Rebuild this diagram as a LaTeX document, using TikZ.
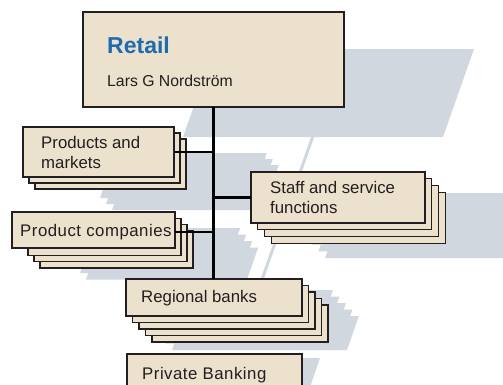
\documentclass[tikz,border=0pt]{standalone}
\usepackage{fontspec}
\setmainfont{Liberation Sans}
\definecolor{boxfill}{HTML}{ECE1CC}
\definecolor{shadow}{HTML}{D0D7DE}
\definecolor{titleblue}{HTML}{1F6BB0}
\definecolor{ink}{HTML}{231F20}
\tikzset{
  box/.style={draw=ink, fill=boxfill, line width=1.2pt, inner sep=0pt, outer sep=0pt, anchor=north west},
  lbl/.style={anchor=base west, inner sep=0pt, text=ink, font=\fontsize{16.8}{20}\selectfont},
  wide/.style={font=\fontsize{16.8}{20}\selectfont\addfontfeature{LetterSpace=3}},
  link/.style={draw=black, line width=2.5pt},
  trunk/.style={draw=black, line width=3pt},
  shd/.style={fill=shadow, draw=none}
}
\begin{document}
\begin{tikzpicture}[x=1pt,y=-1pt]
\useasboundingbox (0,0) rectangle (503,384);
\clip (0,0) rectangle (503,384);
% ---- shadows ----
\fill[shd] (214,49) -- (474,49) -- (443,137) -- (183,137) -- cycle;
\draw[shadow, line width=3pt] (313,136) -- (259,288);
\foreach \k in {0,1,2} {
  \fill[shd] ({100+6*\k+15.75},{153+6*\k}) -- ++(151,0) -- ++(-15.75,45) -- ++(-151,0) -- cycle;
}
\foreach \k in {0,1,2,3} {
  \fill[shd] ({305+6.7*\k+15.75},{193+6.7*\k}) -- ++(230,0) -- ++(-15.75,45) -- ++(-230,0) -- cycle;
}
\foreach \k in {0,1,2,3} {
  \fill[shd] ({68+6*\k+11.2},{228+6.5*\k}) -- ++(161,0) -- ++(-11.2,32) -- ++(-161,0) -- cycle;
}
\foreach \k in {0,1,2,3,4} {
  \fill[shd] ({146+6.5*\k+11.9},{290+6.5*\k}) -- ++(175,0) -- ++(-11.9,34) -- ++(-175,0) -- cycle;
}
\fill[shd] (160,358) -- (320,358) -- (307,396) -- (147,396) -- cycle;
% ---- Retail ----
\node[box, minimum width=261pt, minimum height=95pt] (retail) at (83,12) {};
\node[anchor=base west, inner sep=0pt, text=titleblue, font=\fontsize{23}{27}\selectfont\bfseries] (rtitle) at (107,53) {Retail};
\node[lbl, font=\fontsize{15.8}{19}\selectfont] (rname) at (107,86) {Lars G Nordström};
% ---- Products and markets ----
\foreach \k in {2,1} {
  \node[box, minimum width=151pt, minimum height=50pt] (pm\k) at ({23+6*\k},{127+6*\k}) {};
}
\node[box, minimum width=151pt, minimum height=50pt] (pm0) at (23,127) {};
\node[lbl] (pmt1) at (41,148) {Products and};
\node[lbl] (pmt2) at (41,168) {markets};
% ---- Staff and service functions ----
\foreach \k in {3,2,1} {
  \node[box, minimum width=174pt, minimum height=51pt] (sf\k) at ({251+6.7*\k},{172+6.7*\k}) {};
}
\node[box, minimum width=174pt, minimum height=51pt] (sf0) at (251,172) {};
\node[lbl] (sft1) at (270,193) {Staff and service};
\node[lbl] (sft2) at (270,213) {functions};
% ---- Product companies ----
\foreach \k in {3,2,1} {
  \node[box, minimum width=153pt, minimum height=37pt] (pc\k) at ({22+6*\k},{212+6.3*\k}) {};
}
\node[box, minimum width=163pt, minimum height=36pt] (pc0) at (12,212) {};
\node[lbl, wide] (pct) at (20,236) {Product companies};
% ---- Regional banks ----
\foreach \k in {4,3,2,1} {
  \node[box, minimum width=176pt, minimum height=37pt] (rb\k) at ({126+6.5*\k},{279+6.5*\k}) {};
}
\node[box, minimum width=176pt, minimum height=37pt] (rb0) at (126,279) {};
\node[lbl] (rbt) at (141,302) {Regional banks};
% ---- Private Banking ----
\node[box, minimum width=175pt, minimum height=50pt] (pb) at (127,354) {};
\node[lbl, wide] (pbt) at (142,379) {Private Banking};
% ---- connectors ----
\draw[trunk] (retail.south) -- (retail.south |- rb0.north);
\draw[link] (pm0.east) -- (pm0.east -| retail.south);
\draw[link] (sf0.west) -- (sf0.west -| retail.south);
\draw[link] ([yshift=-2pt]pc0.east) -- ([yshift=-2pt]pc0.east -| retail.south);
\end{tikzpicture}
\end{document}
